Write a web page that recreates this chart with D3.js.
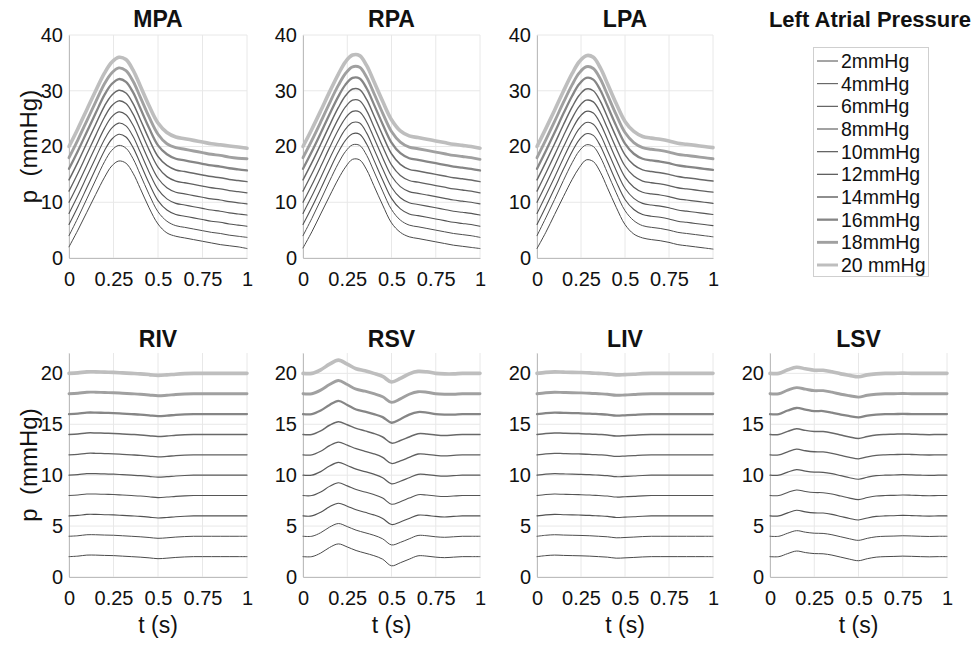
<!DOCTYPE html>
<html><head><meta charset="utf-8">
<script src="https://cdn.jsdelivr.net/npm/d3@7"></script>
<style>html,body{margin:0;padding:0;background:#fff;} svg{display:block;}</style>
</head><body>
<svg id="chart" width="979" height="645"></svg>
<script>
// ---- data ----
const lapLabels = ["2mmHg","4mmHg","6mmHg","8mmHg","10mmHg","12mmHg","14mmHg","16mmHg","18mmHg","20 mmHg"];
const tTop = [0,0.05,0.1,0.15,0.2,0.24,0.28,0.32,0.36,0.4,0.45,0.5,0.55,0.6,0.65,0.7,0.75,0.8,0.85,0.9,0.95,1];
const tBot = [0,0.05,0.1,0.15,0.2,0.25,0.3,0.35,0.4,0.45,0.5,0.55,0.6,0.65,0.7,0.75,0.8,0.85,0.9,0.95,1];
const xTicks = [0,0.25,0.5,0.75,1];
const xTickLabels = ["0","0.25","0.5","0.75","1"];
const yTicksTop = [0,10,20,30,40];
const yTicksBot = [0,5,10,15,20];

const mpa = [
 [2.0,5.0,8.2,11.4,14.5,16.5,17.4,17.0,15.2,12.5,9.0,6.1,4.5,3.9,3.6,3.3,3.0,2.7,2.4,2.2,2.0,1.7],
 [4.0,7.2,10.6,14.0,17.3,19.3,20.2,19.7,17.8,15.0,11.4,8.3,6.6,5.8,5.5,5.2,4.9,4.6,4.4,4.1,3.9,3.7],
 [6.0,9.2,12.6,16.0,19.3,21.3,22.2,21.7,19.8,17.0,13.4,10.3,8.6,7.8,7.5,7.2,6.9,6.6,6.4,6.1,5.9,5.7],
 [8.0,11.2,14.6,18.0,21.3,23.3,24.2,23.7,21.8,19.0,15.4,12.3,10.6,9.8,9.5,9.2,8.9,8.6,8.4,8.1,7.9,7.7],
 [10.0,13.2,16.6,20.0,23.3,25.3,26.2,25.7,23.8,21.0,17.4,14.3,12.6,11.8,11.5,11.2,10.9,10.6,10.4,10.1,9.9,9.7],
 [12.0,15.2,18.6,22.0,25.3,27.3,28.2,27.7,25.8,23.0,19.4,16.3,14.6,13.8,13.5,13.2,12.9,12.6,12.4,12.1,11.9,11.7],
 [14.0,17.2,20.6,24.0,27.3,29.2,30.1,29.6,27.7,24.9,21.3,18.2,16.6,15.8,15.5,15.2,14.9,14.6,14.4,14.1,13.9,13.7],
 [16.0,19.2,22.6,26.0,29.3,31.2,32.1,31.6,29.7,26.9,23.3,20.2,18.6,17.8,17.5,17.2,16.9,16.6,16.4,16.1,15.9,15.7],
 [18.0,21.2,24.6,28.0,31.3,33.2,34.1,33.6,31.7,28.9,25.3,22.2,20.5,19.8,19.5,19.2,18.9,18.6,18.4,18.1,17.9,17.8],
 [20.0,23.2,26.6,30.0,33.2,35.1,36.0,35.6,33.7,30.9,27.3,24.2,22.5,21.7,21.4,21.1,20.8,20.5,20.3,20.1,19.9,19.7]
];
const rpa = [
 [1.8,4.7,7.9,11.1,14.2,16.3,17.7,17.6,15.8,13.0,9.5,6.3,4.6,3.8,3.5,3.2,2.9,2.6,2.3,2.1,1.9,1.7],
 [4.0,7.1,10.4,13.8,17.0,19.1,20.3,20.2,18.4,15.6,12.0,8.7,6.8,5.9,5.6,5.3,5.0,4.7,4.4,4.2,4.0,3.7],
 [6.0,9.1,12.4,15.8,19.0,21.1,22.3,22.2,20.4,17.6,14.0,10.7,8.8,7.9,7.6,7.3,7.0,6.7,6.4,6.2,6.0,5.7],
 [8.0,11.1,14.4,17.8,21.0,23.1,24.3,24.2,22.4,19.6,16.0,12.7,10.8,9.9,9.6,9.3,9.0,8.7,8.4,8.2,8.0,7.7],
 [10.0,13.1,16.4,19.8,23.0,25.1,26.3,26.2,24.4,21.6,18.0,14.7,12.8,11.9,11.6,11.3,11.0,10.7,10.4,10.2,10.0,9.7],
 [12.0,15.1,18.4,21.8,25.0,27.1,28.3,28.2,26.4,23.6,20.0,16.7,14.8,13.9,13.6,13.3,13.0,12.7,12.4,12.2,12.0,11.7],
 [14.0,17.1,20.4,23.8,27.0,29.1,30.3,30.2,28.4,25.6,22.0,18.7,16.8,15.9,15.6,15.3,15.0,14.7,14.4,14.2,14.0,13.7],
 [16.0,19.1,22.4,25.8,29.0,31.1,32.3,32.2,30.4,27.6,24.0,20.7,18.8,17.9,17.6,17.3,17.0,16.7,16.4,16.2,16.0,15.7],
 [18.0,21.1,24.4,27.8,31.0,33.1,34.3,34.2,32.4,29.6,26.0,22.7,20.8,19.9,19.6,19.3,19.0,18.7,18.4,18.2,18.0,17.7],
 [20.0,23.1,26.4,29.8,33.0,35.2,36.4,36.3,34.5,31.7,28.1,24.8,22.8,21.9,21.6,21.3,21.0,20.7,20.4,20.2,20.0,19.7]
];
const lpa = [
 [1.7,4.6,7.8,11.0,14.1,16.2,17.6,17.3,15.4,12.6,9.1,6.0,4.3,3.6,3.3,3.1,2.8,2.4,2.2,2.0,1.8,1.6],
 [4.0,7.2,10.5,13.9,17.1,19.2,20.3,20.0,18.1,15.3,11.7,8.5,6.7,5.8,5.5,5.3,5.0,4.6,4.4,4.2,4.0,3.8],
 [6.0,9.2,12.5,15.9,19.1,21.2,22.3,22.0,20.1,17.3,13.7,10.5,8.7,7.8,7.5,7.3,7.0,6.6,6.4,6.2,6.0,5.8],
 [8.0,11.2,14.5,17.9,21.1,23.2,24.3,24.0,22.1,19.3,15.7,12.5,10.7,9.8,9.5,9.3,9.0,8.6,8.4,8.2,8.0,7.8],
 [10.0,13.2,16.5,19.9,23.1,25.2,26.3,26.0,24.1,21.3,17.7,14.5,12.7,11.8,11.5,11.3,11.0,10.6,10.4,10.2,10.0,9.8],
 [12.0,15.2,18.5,21.9,25.1,27.2,28.3,28.0,26.1,23.3,19.7,16.5,14.7,13.8,13.5,13.3,13.0,12.6,12.4,12.2,12.0,11.8],
 [14.0,17.2,20.5,23.9,27.1,29.2,30.3,30.0,28.1,25.3,21.7,18.5,16.7,15.8,15.5,15.3,15.0,14.6,14.4,14.2,14.0,13.8],
 [16.0,19.2,22.5,25.9,29.1,31.2,32.3,32.0,30.1,27.3,23.7,20.5,18.7,17.8,17.5,17.3,17.0,16.6,16.4,16.2,16.0,15.8],
 [18.0,21.2,24.5,27.9,31.1,33.2,34.3,34.0,32.1,29.3,25.7,22.5,20.7,19.8,19.5,19.3,19.0,18.6,18.4,18.2,18.0,17.8],
 [20.0,23.2,26.5,29.9,33.1,35.2,36.3,36.0,34.1,31.3,27.7,24.5,22.7,21.8,21.5,21.3,21.0,20.6,20.4,20.2,20.0,19.8]
];
const riv = [
 [2,2.05,2.15,2.15,2.12,2.1,2.05,2,1.95,1.88,1.8,1.85,1.92,1.97,2,2,2,2,2,2,2],
 [4,4.05,4.15,4.15,4.12,4.1,4.05,4,3.95,3.88,3.8,3.85,3.92,3.97,4,4,4,4,4,4,4],
 [6,6.05,6.15,6.15,6.12,6.1,6.05,6,5.95,5.88,5.8,5.85,5.92,5.97,6,6,6,6,6,6,6],
 [8,8.05,8.15,8.15,8.12,8.1,8.05,8,7.95,7.88,7.8,7.85,7.92,7.97,8,8,8,8,8,8,8],
 [10,10.05,10.15,10.15,10.12,10.1,10.05,10,9.95,9.88,9.8,9.85,9.92,9.97,10,10,10,10,10,10,10],
 [12,12.05,12.15,12.15,12.12,12.1,12.05,12,11.95,11.88,11.8,11.85,11.92,11.97,12,12,12,12,12,12,12],
 [14,14.05,14.15,14.15,14.12,14.1,14.05,14,13.95,13.88,13.8,13.85,13.92,13.97,14,14,14,14,14,14,14],
 [16,16.05,16.15,16.15,16.12,16.1,16.05,16,15.95,15.88,15.8,15.85,15.92,15.97,16,16,16,16,16,16,16],
 [18,18.05,18.15,18.15,18.12,18.1,18.05,18,17.95,17.88,17.8,17.85,17.92,17.97,18,18,18,18,18,18,18],
 [20,20.05,20.15,20.15,20.12,20.1,20.05,20,19.95,19.88,19.8,19.85,19.92,19.97,20,20,20,20,20,20,20]
];
const rsv = [
 [2,2,2.35,2.9,3.25,2.95,2.6,2.35,2.1,1.75,1.1,1.4,1.75,2.08,2.05,1.95,1.9,1.95,2,2,2],
 [4,4,4.35,4.9,5.25,4.95,4.6,4.35,4.1,3.75,3.15,3.4,3.75,4.08,4.05,3.95,3.9,3.95,4,4,4],
 [6,6,6.35,6.9,7.25,6.95,6.6,6.35,6.1,5.75,5.15,5.4,5.75,6.08,6.05,5.95,5.9,5.95,6,6,6],
 [8,8,8.35,8.9,9.25,8.95,8.6,8.35,8.1,7.75,7.15,7.4,7.75,8.08,8.05,7.95,7.9,7.95,8,8,8],
 [10,10,10.35,10.9,11.25,10.95,10.6,10.35,10.1,9.75,9.15,9.4,9.75,10.08,10.05,9.95,9.9,9.95,10,10,10],
 [12,12,12.35,12.9,13.25,12.95,12.6,12.35,12.1,11.75,11.15,11.4,11.75,12.08,12.05,11.95,11.9,11.95,12,12,12],
 [14,14,14.35,14.9,15.25,14.95,14.6,14.35,14.1,13.75,13.15,13.4,13.75,14.08,14.05,13.95,13.9,13.95,14,14,14],
 [16,16,16.35,16.9,17.3,16.9,16.45,16.25,16,15.7,15.15,15.5,15.95,16.2,16.15,16,15.95,15.95,16,16,16],
 [18,18,18.35,18.9,19.3,18.9,18.45,18.25,18,17.7,17.15,17.5,17.95,18.2,18.15,18,17.95,17.95,18,18,18],
 [20,20,20.35,20.9,21.3,20.9,20.45,20.25,20,19.7,19.15,19.5,19.95,20.2,20.15,20,19.95,19.95,20,20,20]
];
const liv = [
 [2,2.1,2.15,2.12,2.1,2.08,2.05,2,1.95,1.85,1.88,1.92,1.97,2,2,2,2,2,2,2,2],
 [4,4.1,4.15,4.12,4.1,4.08,4.05,4,3.95,3.85,3.88,3.92,3.97,4,4,4,4,4,4,4,4],
 [6,6.1,6.15,6.12,6.1,6.08,6.05,6,5.95,5.85,5.88,5.92,5.97,6,6,6,6,6,6,6,6],
 [8,8.1,8.15,8.12,8.1,8.08,8.05,8,7.95,7.85,7.88,7.92,7.97,8,8,8,8,8,8,8,8],
 [10,10.1,10.15,10.12,10.1,10.08,10.05,10,9.95,9.85,9.88,9.92,9.97,10,10,10,10,10,10,10,10],
 [12,12.1,12.15,12.12,12.1,12.08,12.05,12,11.95,11.85,11.88,11.92,11.97,12,12,12,12,12,12,12,12],
 [14,14.1,14.15,14.12,14.1,14.08,14.05,14,13.95,13.85,13.88,13.92,13.97,14,14,14,14,14,14,14,14],
 [16,16.1,16.15,16.12,16.1,16.08,16.05,16,15.95,15.85,15.88,15.92,15.97,16,16,16,16,16,16,16,16],
 [18,18.1,18.15,18.12,18.1,18.08,18.05,18,17.95,17.85,17.88,17.92,17.97,18,18,18,18,18,18,18,18],
 [20,20.1,20.15,20.12,20.1,20.08,20.05,20,19.95,19.85,19.88,19.92,19.97,20,20,20,20,20,20,20,20]
];
const lsv = [
 [2,2,2.3,2.55,2.4,2.3,2.28,2.15,1.95,1.75,1.6,1.8,1.95,2,2.02,2.05,2.03,2,1.98,2,2],
 [4,4,4.3,4.55,4.4,4.3,4.28,4.15,3.95,3.75,3.6,3.8,3.95,4,4.02,4.05,4.03,4,3.98,4,4],
 [6,6,6.3,6.55,6.4,6.3,6.28,6.15,5.95,5.75,5.6,5.8,5.95,6,6.02,6.05,6.03,6,5.98,6,6],
 [8,8,8.3,8.55,8.4,8.3,8.28,8.15,7.95,7.75,7.6,7.8,7.95,8,8.02,8.05,8.03,8,7.98,8,8],
 [10,10,10.3,10.55,10.4,10.3,10.28,10.15,9.95,9.75,9.6,9.8,9.95,10,10.02,10.05,10.03,10,9.98,10,10],
 [12,12,12.3,12.55,12.4,12.3,12.28,12.15,11.95,11.75,11.6,11.8,11.95,12,12.02,12.05,12.03,12,11.98,12,12],
 [14,14,14.3,14.55,14.4,14.3,14.28,14.15,13.95,13.75,13.6,13.8,13.95,14,14.02,14.05,14.03,14,13.98,14,14],
 [16,16,16.35,16.6,16.45,16.3,16.3,16.15,15.95,15.8,15.67,15.85,15.95,16,16,16.02,16,16,16,16,16],
 [18,18,18.35,18.6,18.45,18.3,18.3,18.15,17.95,17.8,17.67,17.85,17.95,18,18,18.02,18,18,18,18,18],
 [20,20,20.35,20.6,20.45,20.3,20.3,20.15,19.95,19.8,19.67,19.85,19.95,20,20,20.02,20,20,20,20,20]
];

// ---- styles ----
const lineColors = ["#4a4a4a","#4e4e4e","#525252","#565656","#5a5a5a","#606060","#686868","#868686","#a0a0a0","#bebebe"];
const lineWidths = [1.0,1.0,1.1,1.1,1.2,1.3,1.5,2.3,2.9,3.6];
const FONT = "'Liberation Sans', Arial, Helvetica, sans-serif";

const svg = d3.select("#chart");
const cols = [[69,247],[303,480],[537,713],[770,947]];
const rows = [[35,258],[353,577]];

const panels = [
  {name:"MPA", data:mpa, t:tTop, c:0, r:0},
  {name:"RPA", data:rpa, t:tTop, c:1, r:0},
  {name:"LPA", data:lpa, t:tTop, c:2, r:0},
  {name:"RIV", data:riv, t:tBot, c:0, r:1},
  {name:"RSV", data:rsv, t:tBot, c:1, r:1},
  {name:"LIV", data:liv, t:tBot, c:2, r:1},
  {name:"LSV", data:lsv, t:tBot, c:3, r:1}
];

panels.forEach(p => {
  const x = d3.scaleLinear().domain([0,1]).range(cols[p.c]);
  const y = d3.scaleLinear().domain(p.r===0 ? [0,40] : [0,22]).range([rows[p.r][1], rows[p.r][0]]);
  const yTicks = p.r===0 ? yTicksTop : yTicksBot;
  const g = svg.append("g");

  // grid
  g.selectAll(".gx").data(xTicks).join("line")
    .attr("x1", d=>x(d)).attr("x2", d=>x(d))
    .attr("y1", y.range()[0]).attr("y2", y.range()[1])
    .attr("stroke","#e8e8e8").attr("stroke-width",1);
  g.selectAll(".gy").data(yTicks).join("line")
    .attr("x1", x.range()[0]).attr("x2", x.range()[1])
    .attr("y1", d=>y(d)).attr("y2", d=>y(d))
    .attr("stroke","#e8e8e8").attr("stroke-width",1);

  // axes
  const xAxis = d3.axisBottom(x).tickValues(xTicks).tickFormat((d,i)=>xTickLabels[i]).tickSize(0).tickPadding(10);
  const yAxis = d3.axisLeft(y).tickValues(yTicks).tickFormat(d3.format("d")).tickSize(0).tickPadding(6);
  const gx = g.append("g").attr("transform", `translate(0,${y.range()[0]})`).call(xAxis);
  const gy = g.append("g").attr("transform", `translate(${x.range()[0]},0)`).call(yAxis);
  [gx, gy].forEach(a => {
    a.select(".domain").attr("stroke","#bdbdbd").attr("stroke-width",1);
    a.selectAll("text").attr("font-family",FONT).attr("font-size",20).attr("fill","#111");
  });
  gx.selectAll("text").attr("dy","0.9em");

  // curves
  const line = d3.line().x((d,i)=>x(p.t[i])).y(d=>y(d)).curve(d3.curveCatmullRom.alpha(0.5));
  g.selectAll(".curve").data(p.data).join("path")
    .attr("d", d=>line(d))
    .attr("fill","none")
    .attr("stroke",(d,i)=>lineColors[i])
    .attr("stroke-width",(d,i)=>lineWidths[i])
    .attr("stroke-linejoin","round").attr("stroke-linecap","round");

  // title
  g.append("text").attr("x",(x.range()[0]+x.range()[1])/2).attr("y", p.r===0 ? 27 : 347)
    .attr("text-anchor","middle").attr("font-family",FONT).attr("font-weight","bold")
    .attr("font-size",23).attr("fill","#111").text(p.name);

  if (p.c===0) {
    const cy = (y.range()[0]+y.range()[1])/2;
    g.append("text").attr("transform",`translate(37,${cy}) rotate(-90)`)
      .attr("text-anchor","middle").attr("font-family",FONT).attr("font-size",24)
      .attr("fill","#111").style("white-space","pre").text("p  (mmHg)");
  }
  if (p.r===1) {
    g.append("text").attr("x",(x.range()[0]+x.range()[1])/2).attr("y",633)
      .attr("text-anchor","middle").attr("font-family",FONT).attr("font-size",23)
      .attr("fill","#111").text("t (s)");
  }
});

// legend
svg.append("text").attr("x",870).attr("y",27).attr("text-anchor","middle")
  .attr("font-family",FONT).attr("font-weight","bold").attr("font-size",22)
  .attr("fill","#111").text("Left Atrial Pressure");
const lg = svg.append("g");
lg.append("rect").attr("x",813.5).attr("y",47.5).attr("width",115).attr("height",229)
  .attr("fill","#fff").attr("stroke","#cfcfcf").attr("stroke-width",1);
const ly = d3.scaleLinear().domain([0,9]).range([61,265]);
lg.selectAll(".li").data(lapLabels).join("line")
  .attr("x1",817).attr("x2",838).attr("y1",(d,i)=>ly(i)).attr("y2",(d,i)=>ly(i))
  .attr("stroke",(d,i)=>lineColors[i]).attr("stroke-width",(d,i)=>Math.min(lineWidths[i],3));
lg.selectAll(".lt").data(lapLabels).join("text")
  .attr("x",841).attr("y",(d,i)=>ly(i)).attr("dy","0.36em")
  .attr("font-family",FONT).attr("font-size",19.5).attr("fill","#111").text(d=>d);
</script>
</body></html>
